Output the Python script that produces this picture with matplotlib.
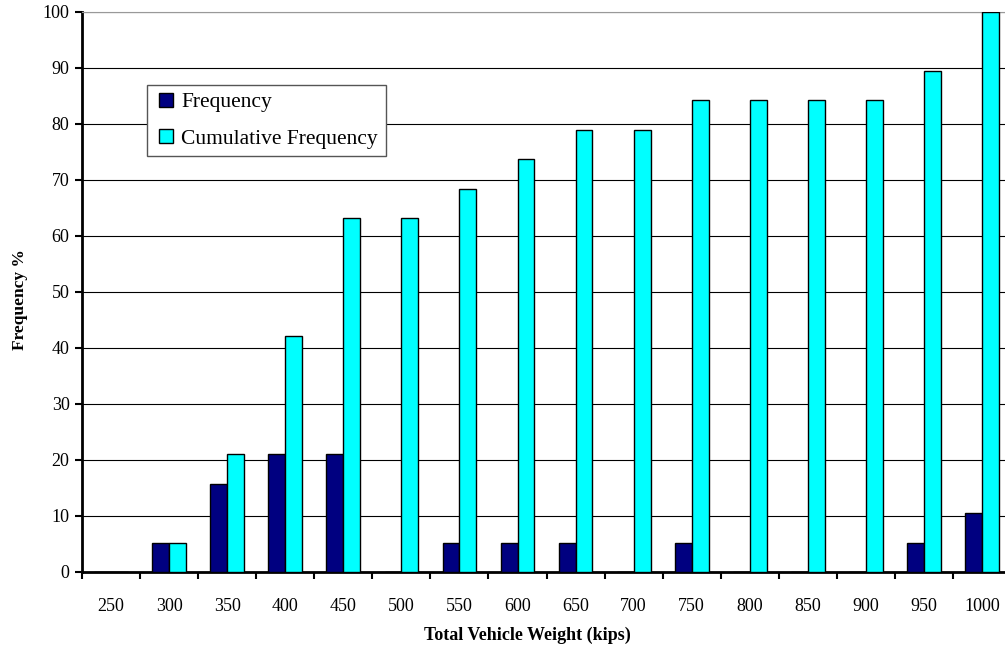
import numpy as np
import matplotlib.pyplot as plt
from matplotlib.lines import Line2D

weights = [250, 300, 350, 400, 450, 500, 550, 600, 650, 700, 750, 800, 850, 900, 950, 1000]
frequency = [0, 5.26, 15.79, 21.05, 21.05, 0, 5.26, 5.26, 5.26, 0, 5.26, 0, 0, 0, 5.26, 10.53]
cumulative = [0, 5.26, 21.05, 42.11, 63.16, 63.16, 68.42, 73.68, 78.95, 78.95, 84.21, 84.21, 84.21, 84.21, 89.47, 100]

navy = '#000080'
cyan = '#00FFFF'

plt.rcParams['font.family'] = ['Liberation Serif', 'DejaVu Serif']

fig = plt.figure(figsize=(10.05, 6.48), dpi=100)
ax = fig.add_axes([0.0816, 0.1173, 0.9245, 0.8642])

x = np.arange(len(weights))
w = 0.29
ax.bar(x - w / 2, frequency, w, color=navy, edgecolor='black', linewidth=1, zorder=3)
ax.bar(x + w / 2, cumulative, w, color=cyan, edgecolor='black', linewidth=1, zorder=3)

ax.set_xlim(-0.5, len(weights) - 0.5)
ax.set_ylim(0, 100)
ax.set_yticks(range(0, 101, 10))
ax.yaxis.grid(True, color='black', linewidth=0.8)
ax.set_axisbelow(True)

ax.set_xticks(x)
ax.set_xticklabels(weights)
ax.set_xticks(np.arange(-0.5, len(weights)), minor=True)
ax.tick_params(axis='x', which='major', length=0, pad=19, labelsize=13)
ax.tick_params(axis='x', which='minor', length=5, width=1.5, direction='out')
ax.tick_params(axis='y', length=5, width=1.5, direction='out', labelsize=13, pad=4)

ax.spines['left'].set_linewidth(2)
ax.spines['bottom'].set_linewidth(2)
ax.spines['top'].set_color('#999999')
ax.spines['right'].set_visible(False)

ax.set_xlabel('Total Vehicle Weight (kips)', fontsize=13, fontweight='bold')
ax.xaxis.set_label_coords(0.479, -0.097)
ax.set_ylabel('Frequency %', fontsize=12.5, fontweight='bold')
ax.yaxis.set_label_coords(-0.058, 0.486)

# square markers as legend keys
handles = [
    Line2D([], [], linestyle='none', marker='s', markersize=10, markerfacecolor=navy,
           markeredgecolor='black', markeredgewidth=1),
    Line2D([], [], linestyle='none', marker='s', markersize=10, markerfacecolor=cyan,
           markeredgecolor='black', markeredgewidth=1),
]
leg = ax.legend(handles, ['Frequency', 'Cumulative Frequency'], loc='upper left',
                bbox_to_anchor=(0.07, 0.87), borderaxespad=0, fancybox=False,
                edgecolor='#555555', framealpha=1, fontsize=15.5, handlelength=1.1,
                handletextpad=0.15, borderpad=0.35, labelspacing=0.75)
leg.get_frame().set_linewidth(1)

fig.savefig('out.png', dpi=100)
